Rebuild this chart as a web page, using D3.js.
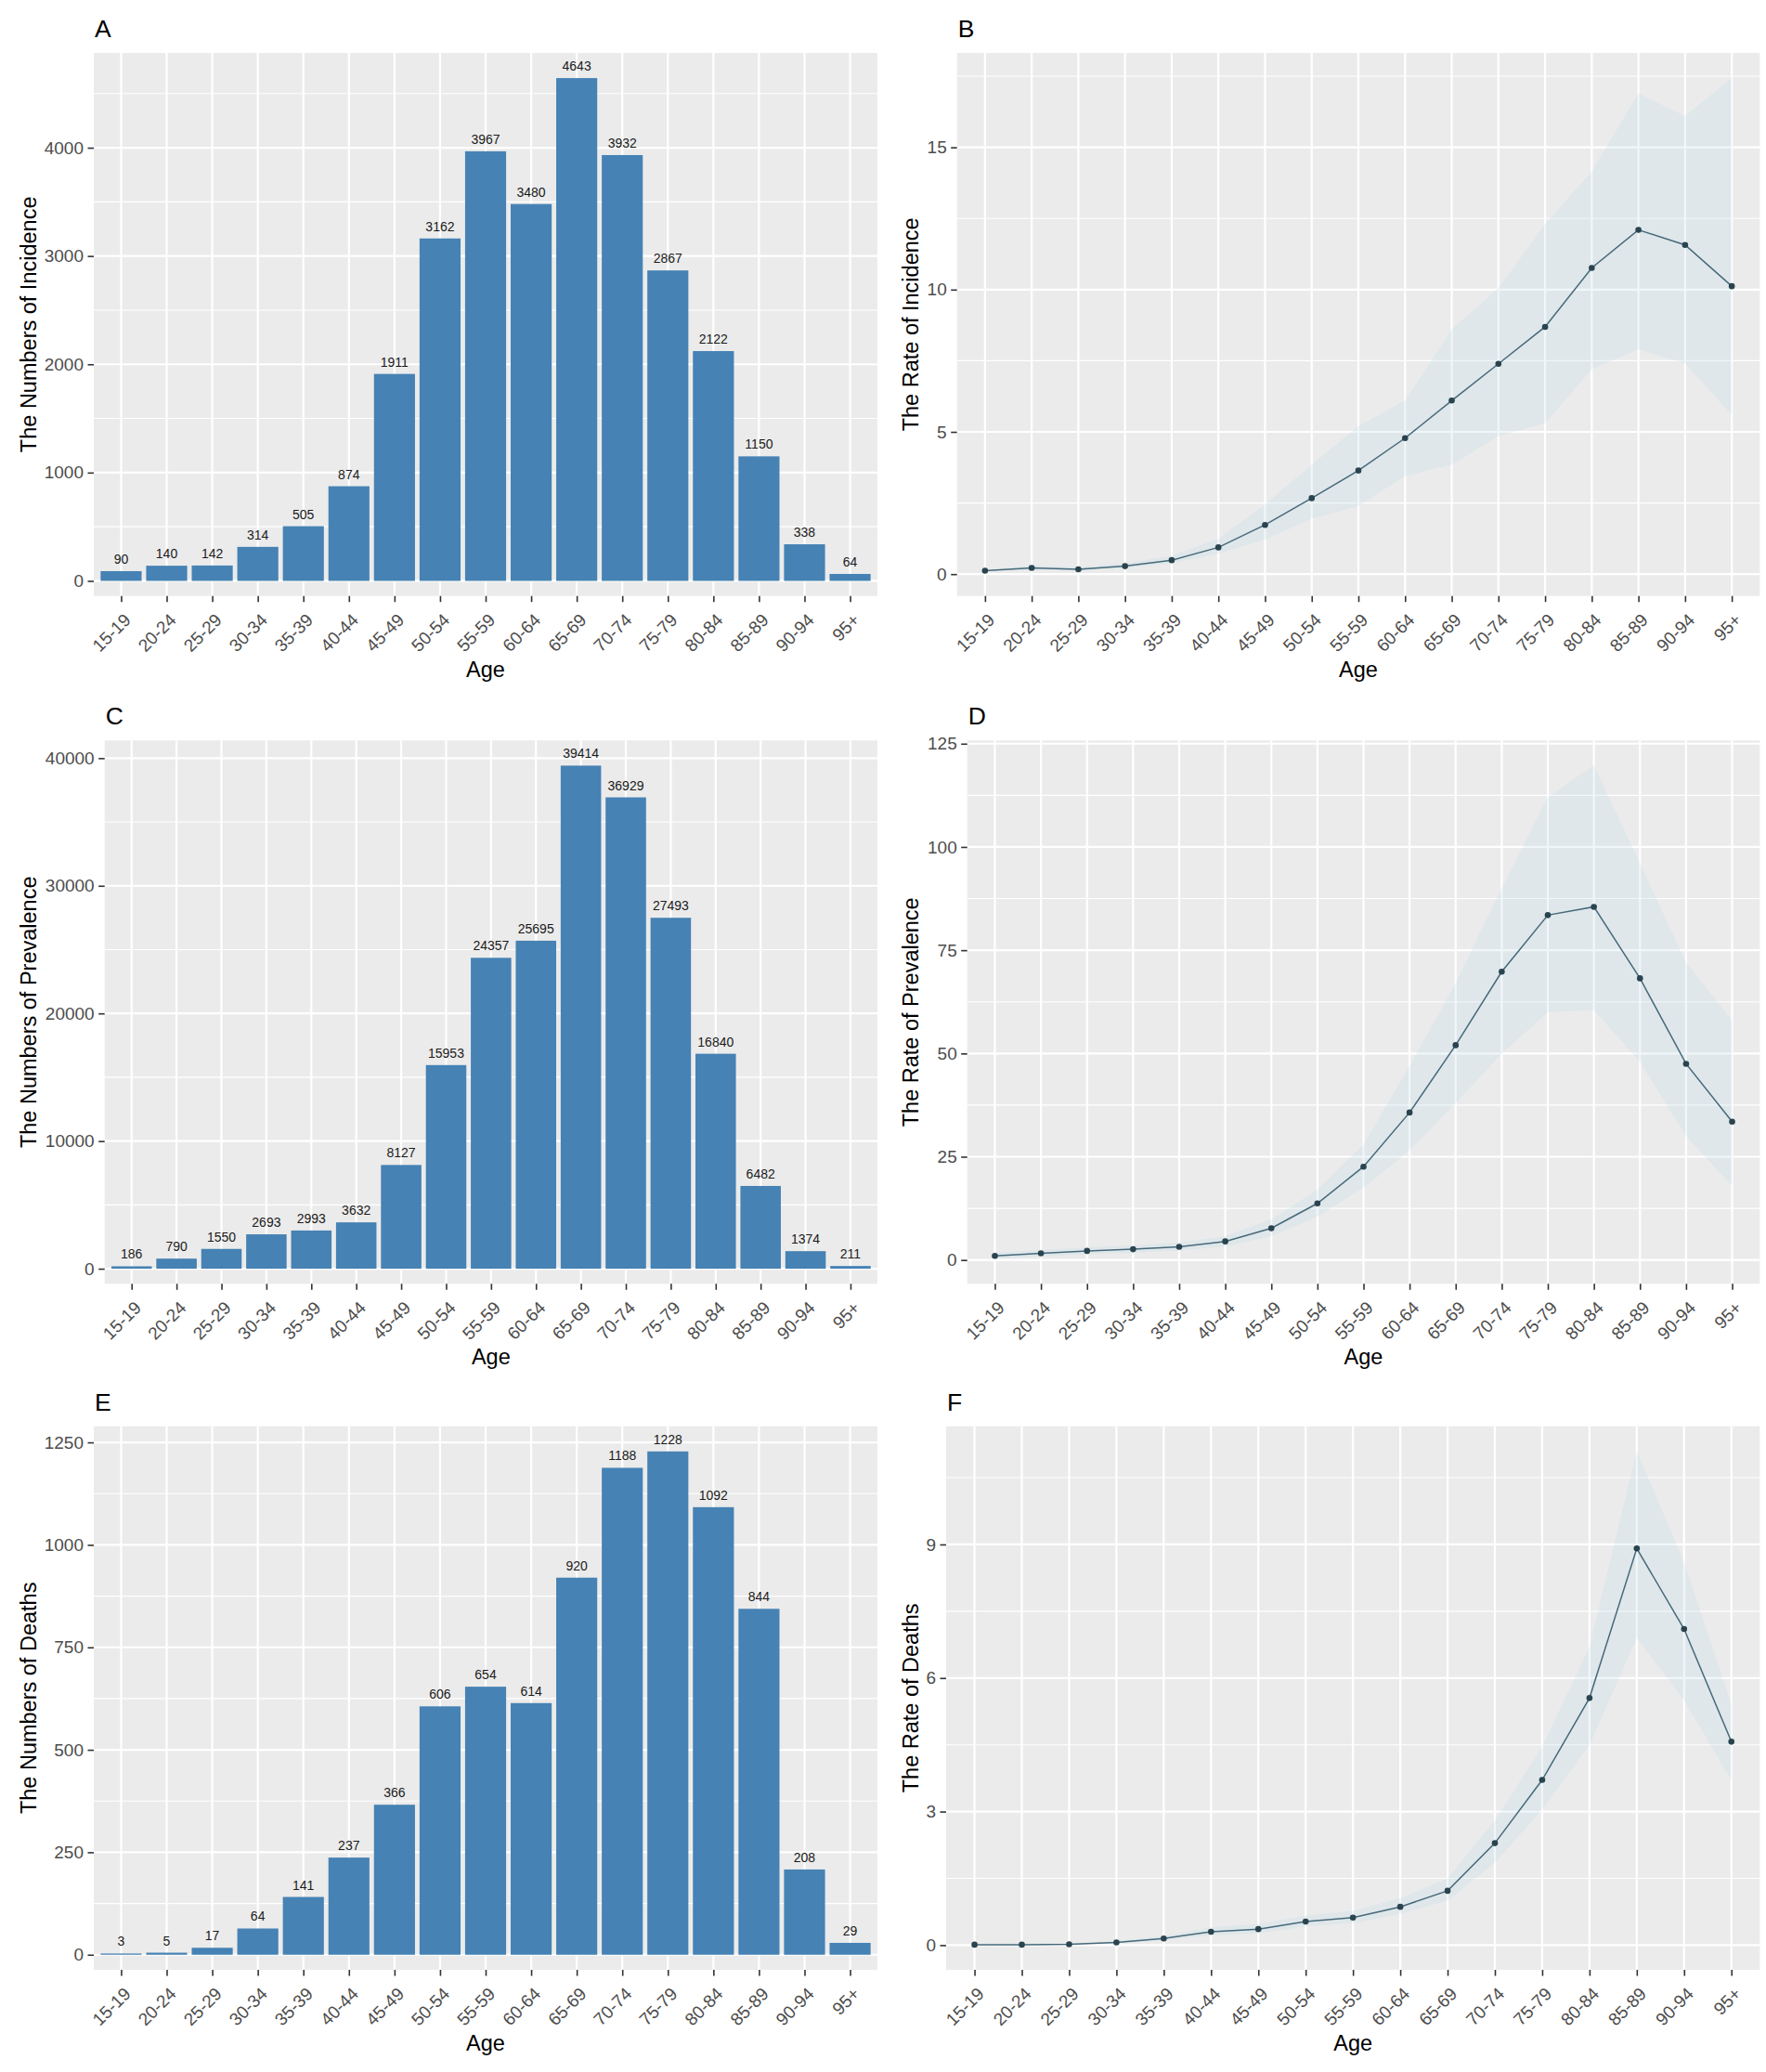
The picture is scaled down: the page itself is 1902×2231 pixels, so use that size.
<!DOCTYPE html>
<html>
<head>
<meta charset="utf-8">
<script src="https://cdn.jsdelivr.net/npm/d3@7"></script>
<style>
  body { margin: 0; background: #fff; }
</style>
</head>
<body>
<svg id="fig"></svg>
<script>
// ---- data ----
const ageGroups = ["15-19", "20-24", "25-29", "30-34", "35-39", "40-44", "45-49", "50-54", "55-59",
  "60-64", "65-69", "70-74", "75-79", "80-84", "85-89", "90-94", "95+"];

const incidenceCounts = [90, 140, 142, 314, 505, 874, 1911, 3162, 3967, 3480, 4643, 3932, 2867, 2122, 1150, 338, 64];
const incidenceRate = [0.12, 0.22, 0.17, 0.28, 0.49, 0.94, 1.73, 2.67, 3.64, 4.78, 6.10, 7.39, 8.69, 10.76, 12.10, 11.57, 10.12];
const incidenceRateLower = [0.10, 0.16, 0.13, 0.21, 0.38, 0.72, 1.22, 1.95, 2.40, 3.45, 3.85, 4.85, 5.30, 7.20, 7.90, 7.40, 5.60];
const incidenceRateUpper = [0.15, 0.30, 0.24, 0.38, 0.64, 1.25, 2.45, 3.85, 5.20, 6.10, 8.60, 10.05, 12.30, 14.15, 16.90, 16.10, 17.45];

const prevalenceCounts = [186, 790, 1550, 2693, 2993, 3632, 8127, 15953, 24357, 25695, 39414, 36929, 27493, 16840, 6482, 1374, 211];
const prevalenceRate = [1.0, 1.6, 2.2, 2.6, 3.2, 4.5, 7.7, 13.7, 22.6, 35.7, 52.0, 69.8, 83.5, 85.5, 68.2, 47.5, 33.5];
const prevalenceRateLower = [0.22, 0.9, 1.4, 1.8, 2.3, 3.3, 5.8, 10.5, 17.5, 26.5, 38, 50, 60, 60.5, 48, 30, 18];
const prevalenceRateUpper = [1.8, 2.4, 3.0, 3.5, 4.2, 5.8, 9.8, 17, 28, 47, 67, 90, 112, 119.8, 96, 72, 58];

const deathCounts = [3, 5, 17, 64, 141, 237, 366, 606, 654, 614, 920, 1188, 1228, 1092, 844, 208, 29];
const deathRate = [0.01, 0.01, 0.02, 0.06, 0.15, 0.30, 0.36, 0.53, 0.62, 0.86, 1.22, 2.29, 3.71, 5.55, 8.91, 7.10, 4.57];
const deathRateLower = [0.0, 0.0, 0.01, 0.04, 0.11, 0.22, 0.27, 0.42, 0.50, 0.70, 1.00, 1.85, 3.05, 4.50, 6.90, 5.50, 3.70];
const deathRateUpper = [0.02, 0.03, 0.04, 0.09, 0.20, 0.40, 0.47, 0.66, 0.77, 1.05, 1.50, 2.80, 4.45, 6.70, 11.1, 8.60, 5.40];

const incidenceCountTicks = [0, 1000, 2000, 3000, 4000];
const incidenceRateTicks = [0, 5, 10, 15];
const prevalenceCountTicks = [0, 10000, 20000, 30000, 40000];
const prevalenceRateTicks = [0, 25, 50, 75, 100, 125];
const deathCountTicks = [0, 250, 500, 750, 1000, 1250];
const deathRateTicks = [0, 3, 6, 9];

// ---- layout ----
const width = 1902;
const height = 2231;
const FONT = "'Liberation Sans', Arial, sans-serif";

const svg = d3.select("#fig").attr("width", width).attr("height", height);
svg.append("rect").attr("width", width).attr("height", height).attr("fill", "#fff");

const rows = [
  { top: 57, bottom: 641.7 },
  { top: 797.3, bottom: 1382.3 },
  { top: 1535.7, bottom: 2121 },
];

const panels = [
  { tag: "A", kind: "bar", values: incidenceCounts, ticks: incidenceCountTicks,
    ylab: "The Numbers of Incidence", left: 101, right: 945, row: rows[0], titleX: 39 },
  { tag: "B", kind: "line", values: incidenceRate, lower: incidenceRateLower, upper: incidenceRateUpper,
    ticks: incidenceRateTicks, ylab: "The Rate of Incidence", left: 1030.7, right: 1895.3, row: rows[0], titleX: 989 },
  { tag: "C", kind: "bar", values: prevalenceCounts, ticks: prevalenceCountTicks,
    ylab: "The Numbers of Prevalence", left: 112.7, right: 945, row: rows[1], titleX: 39 },
  { tag: "D", kind: "line", values: prevalenceRate, lower: prevalenceRateLower, upper: prevalenceRateUpper,
    ticks: prevalenceRateTicks, ylab: "The Rate of Prevalence", left: 1041.7, right: 1895.3, row: rows[1], titleX: 989 },
  { tag: "E", kind: "bar", values: deathCounts, ticks: deathCountTicks,
    ylab: "The Numbers of Deaths", left: 101, right: 945, row: rows[2], titleX: 39 },
  { tag: "F", kind: "line", values: deathRate, lower: deathRateLower, upper: deathRateUpper,
    ticks: deathRateTicks, ylab: "The Rate of Deaths", left: 1019, right: 1895.3, row: rows[2], titleX: 989 },
];

panels.forEach(renderPanel);

function renderPanel(p) {
  const top = p.row.top, bottom = p.row.bottom;

  /* scales */
  const x = d3.scalePoint().domain(ageGroups).range([p.left, p.right]).padding(0.6);
  let yDomain;
  if (p.kind === "bar") {
    const m = d3.max(p.values);
    yDomain = [-0.03 * m, 1.05 * m];
  } else {
    const lo = d3.min(p.lower), hi = d3.max(p.upper);
    const pad = 0.05 * (hi - lo);
    yDomain = [lo - pad, hi + pad];
  }
  const y = d3.scaleLinear().domain(yDomain).range([bottom, top]);

  /* panel background + grid */
  const g = svg.append("g").attr("class", "panel-" + p.tag);
  g.append("rect")
    .attr("x", p.left).attr("y", top)
    .attr("width", p.right - p.left).attr("height", bottom - top)
    .attr("fill", "#EBEBEB");

  const step = p.ticks[1] - p.ticks[0];
  const minor = [];
  for (let v = p.ticks[0] - step / 2; v <= yDomain[1]; v += step) {
    if (v >= yDomain[0]) minor.push(v);
  }
  g.selectAll(".minor").data(minor).join("line")
    .attr("x1", p.left).attr("x2", p.right)
    .attr("y1", (d) => y(d)).attr("y2", (d) => y(d))
    .attr("stroke", "#fff").attr("stroke-width", 1.1);
  g.selectAll(".major-y").data(p.ticks).join("line")
    .attr("x1", p.left).attr("x2", p.right)
    .attr("y1", (d) => y(d)).attr("y2", (d) => y(d))
    .attr("stroke", "#fff").attr("stroke-width", 2.2);
  g.selectAll(".major-x").data(ageGroups).join("line")
    .attr("x1", (d) => x(d)).attr("x2", (d) => x(d))
    .attr("y1", top).attr("y2", bottom)
    .attr("stroke", "#fff").attr("stroke-width", 2.2);

  /* marks */
  if (p.kind === "bar") {
    const bw = x.step() * 0.9;
    g.selectAll(".bar").data(p.values).join("rect")
      .attr("x", (d, i) => x(ageGroups[i]) - bw / 2)
      .attr("width", bw)
      .attr("y", (d) => y(d))
      .attr("height", (d) => y(0) - y(d))
      .attr("fill", "#4682B4");
    g.selectAll(".val").data(p.values).join("text")
      .attr("x", (d, i) => x(ageGroups[i]))
      .attr("y", (d) => y(d) - 8)
      .attr("text-anchor", "middle")
      .attr("font-family", FONT)
      .attr("font-size", 14)
      .attr("fill", "#1a1a1a")
      .text((d) => d);
  } else {
    const idx = d3.range(ageGroups.length);
    const area = d3.area()
      .x((i) => x(ageGroups[i]))
      .y0((i) => y(p.lower[i]))
      .y1((i) => y(p.upper[i]));
    g.append("path").attr("d", area(idx))
      .attr("fill", "#ADD8E6").attr("fill-opacity", 0.2);
    const line = d3.line()
      .x((i) => x(ageGroups[i]))
      .y((i) => y(p.values[i]));
    g.append("path").attr("d", line(idx))
      .attr("fill", "none").attr("stroke", "#46697a").attr("stroke-width", 1.5);
    g.selectAll(".pt").data(idx).join("circle")
      .attr("cx", (i) => x(ageGroups[i]))
      .attr("cy", (i) => y(p.values[i]))
      .attr("r", 3.3)
      .attr("fill", "#2a444f");
  }

  /* axes */
  const yAxis = svg.append("g")
    .attr("transform", `translate(${p.left},0)`)
    .call(d3.axisLeft(y).tickValues(p.ticks).tickSize(6.5).tickPadding(4.5).tickFormat(d3.format("d")))
    .call((a) => a.select(".domain").remove());
  yAxis.selectAll(".tick line").attr("stroke", "#333").attr("stroke-width", 1.6);
  yAxis.selectAll(".tick text")
    .attr("font-family", FONT).attr("font-size", 19).attr("fill", "#4D4D4D");

  const xAxis = svg.append("g")
    .attr("transform", `translate(0,${bottom})`)
    .call(d3.axisBottom(x).tickSize(6.5))
    .call((a) => a.select(".domain").remove());
  xAxis.selectAll(".tick line").attr("stroke", "#333").attr("stroke-width", 1.6);
  xAxis.selectAll(".tick text")
    .attr("x", 0).attr("y", 0).attr("dy", 0)
    .attr("text-anchor", "end")
    .attr("transform", "translate(11,27) rotate(-45)")
    .attr("font-family", FONT).attr("font-size", 19).attr("fill", "#4D4D4D");

  /* titles */
  svg.append("text")
    .attr("x", (p.left + p.right) / 2).attr("y", bottom + 87)
    .attr("text-anchor", "middle")
    .attr("font-family", FONT).attr("font-size", 23.5).attr("fill", "#000")
    .text("Age");
  svg.append("text")
    .attr("transform", `translate(${p.titleX},${(top + bottom) / 2}) rotate(-90)`)
    .attr("text-anchor", "middle")
    .attr("font-family", FONT).attr("font-size", 23.5).attr("fill", "#000")
    .text(p.ylab);
  svg.append("text")
    .attr("x", p.left + 1).attr("y", top - 17)
    .attr("font-family", FONT).attr("font-size", 26.5).attr("fill", "#000")
    .text(p.tag);
}
</script>
</body>
</html>
